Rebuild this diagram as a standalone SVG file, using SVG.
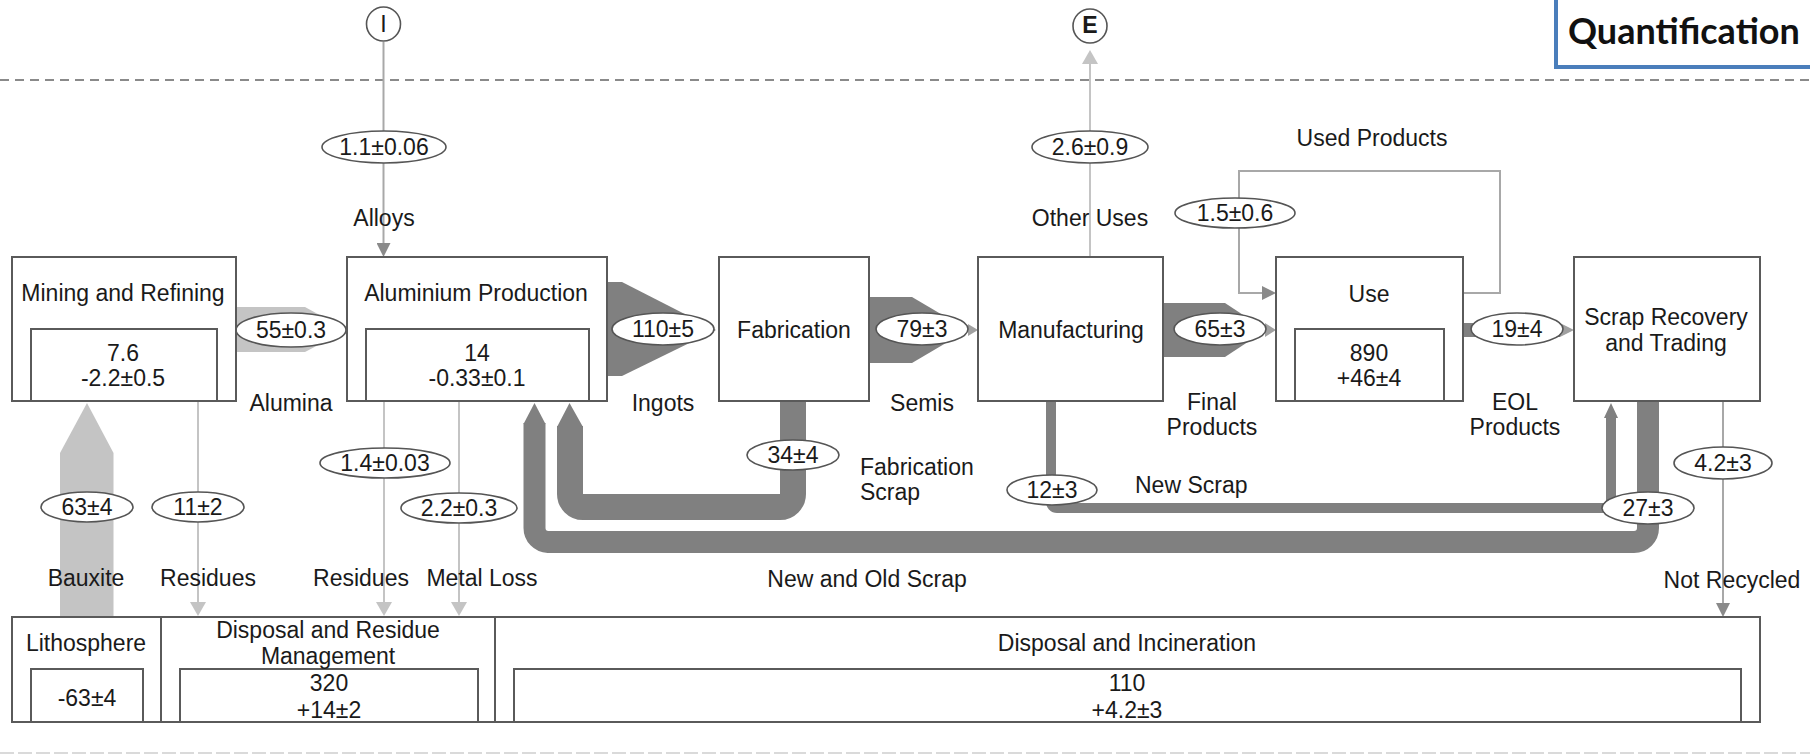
<svg xmlns="http://www.w3.org/2000/svg" width="1810" height="756" viewBox="0 0 1810 756">
<defs>
<style>
text { font-family: "Liberation Sans", Arial, sans-serif; font-size: 23px; fill: #1a1a1a; text-anchor: middle; }
.st { text-anchor: start; }
.box { fill: #fff; stroke: #5a5a5a; stroke-width: 2; }
.lbl { fill: #fff; stroke: #555; stroke-width: 1.6; }
.dark { fill: #808080; }
.dband { fill: none; stroke: #808080; }
.light { fill: #c4c4c4; }
.thinl { fill: none; stroke: #c4c4c4; stroke-width: 2; }
.thind { fill: none; stroke: #a8a8a8; stroke-width: 2; }
.q { font-family: Lato, "Open Sans", sans-serif; font-weight: 700; font-size: 36px; fill: #111; text-anchor: start; }
</style>
<marker id="hd" markerUnits="userSpaceOnUse" markerWidth="14" markerHeight="14" refX="0" refY="7" orient="auto"><path d="M0,0 L14,7 L0,14 z" fill="#8a8a8a"/></marker>
<marker id="hl" markerUnits="userSpaceOnUse" markerWidth="16" markerHeight="16" refX="0" refY="8" orient="auto"><path d="M0,0 L14,8 L0,16 z" fill="#c4c4c4"/></marker>
</defs>
<rect width="1810" height="756" fill="#fff"/>

<!-- system boundary -->
<line x1="0" y1="80" x2="1810" y2="80" stroke="#8a8a8a" stroke-width="2" stroke-dasharray="9 6"/>
<line x1="0" y1="753" x2="1810" y2="753" stroke="#dadada" stroke-width="2" stroke-dasharray="14 4"/>

<g id="title">
<rect x="1556" y="-4" width="270" height="71" fill="#fff" stroke="#4a7ebb" stroke-width="4"/>
<text class="q" x="1568" y="44">Quantification</text>
</g>

<g id="connectors">
<!-- thin flows -->
<path class="thind" d="M383.5,42 V243" marker-end="url(#hd)"/>
<path class="thinl" d="M1090,257 V64" marker-end="url(#hl)"/>
<path class="thinl" d="M198,401 V602" stroke-width="6" marker-end="url(#hl)"/>
<path class="thinl" d="M384,401 V602" marker-end="url(#hl)"/>
<path class="thinl" d="M459,401 V602" stroke="#bcbcbc" marker-end="url(#hl)"/>
<path class="thind" d="M1723,401 V603" stroke="#b4b4b4" marker-end="url(#hd)"/>
<path class="thind" d="M1463,293 H1500 V171 H1239 V293 H1262" stroke="#b4b4b4" marker-end="url(#hd)"/>
<!-- bauxite -->
<polygon class="light" points="60,617 60,453 87,403 113.5,453 113.5,617" fill="#c2c2c2"/>
<!-- alumina -->
<polygon class="light" points="236,307 305,307 347,330 305,352 236,352" fill="#c8c8c8"/>
<!-- ingots -->
<polygon class="dark" points="607,282 622,282 716,330 622,376 607,376"/>
<!-- semis -->
<polygon class="dark" points="869,297 912,297 968,330 912,363 869,363"/>
<polygon points="968,324 978,330 968,336" fill="#a0a0a0"/>
<!-- final products -->
<polygon class="dark" points="1163,303 1225,303 1266,330 1225,357 1163,357"/>
<polygon points="1265,323 1276,330 1265,337" fill="#a0a0a0"/>
<!-- EOL products -->
<rect class="dark" x="1463" y="323" width="97" height="14"/>
<polygon points="1560,323 1574,330 1560,337" fill="#a0a0a0"/>
<!-- fabrication scrap -->
<path class="dband" stroke-width="26" d="M793,401 V494 A13,13 0 0 1 780,507 H583 A13,13 0 0 1 570,494 V426"/>
<polygon class="dark" points="557,427 569.5,403 583,427"/>
<!-- new scrap -->
<path class="dband" stroke-width="10" d="M1051,401 V502 A6,6 0 0 0 1057,508 H1605 A6,6 0 0 0 1611,502 V417"/>
<polygon class="dark" points="1604,418 1611,403 1618,418"/>
<!-- new and old scrap -->
<path class="dband" stroke-width="22" d="M1648,401 V528 A14,14 0 0 1 1634,542 H548 A14,14 0 0 1 534.5,528 V423"/>
<polygon class="dark" points="523.5,424 534.5,403 545.5,424"/>
</g>

<g id="flow-labels">
<ellipse class="lbl" cx="384" cy="147" rx="62" ry="16"/><text x="384" y="155">1.1±0.06</text>
<ellipse class="lbl" cx="1090" cy="147" rx="58" ry="16"/><text x="1090" y="155">2.6±0.9</text>
<ellipse class="lbl" cx="1235" cy="213" rx="60" ry="15"/><text x="1235" y="221">1.5±0.6</text>
<ellipse class="lbl" cx="291" cy="330" rx="55" ry="17"/><text x="291" y="338">55±0.3</text>
<ellipse class="lbl" cx="663" cy="329" rx="51" ry="16"/><text x="663" y="337">110±5</text>
<ellipse class="lbl" cx="922" cy="329" rx="46" ry="16"/><text x="922" y="337">79±3</text>
<ellipse class="lbl" cx="1220" cy="329" rx="46" ry="16"/><text x="1220" y="337">65±3</text>
<ellipse class="lbl" cx="1517" cy="329" rx="46" ry="16"/><text x="1517" y="337">19±4</text>
<ellipse class="lbl" cx="385" cy="463" rx="65" ry="15"/><text x="385" y="471">1.4±0.03</text>
<ellipse class="lbl" cx="793" cy="455" rx="46" ry="15"/><text x="793" y="463">34±4</text>
<ellipse class="lbl" cx="1723" cy="463" rx="49" ry="16"/><text x="1723" y="471">4.2±3</text>
<ellipse class="lbl" cx="1052" cy="490" rx="45" ry="15"/><text x="1052" y="498">12±3</text>
<ellipse class="lbl" cx="1648" cy="508" rx="46" ry="16"/><text x="1648" y="516">27±3</text>
<ellipse class="lbl" cx="87" cy="507" rx="46" ry="15"/><text x="87" y="515">63±4</text>
<ellipse class="lbl" cx="198" cy="507" rx="46" ry="15"/><text x="198" y="515">11±2</text>
<ellipse class="lbl" cx="459" cy="508" rx="58" ry="15"/><text x="459" y="516">2.2±0.3</text>
</g>

<g id="flow-names">
<text x="384" y="226">Alloys</text>
<text x="1090" y="226">Other Uses</text>
<text x="1372" y="146">Used Products</text>
<text x="291" y="411">Alumina</text>
<text x="663" y="411">Ingots</text>
<text x="922" y="411">Semis</text>
<text x="1212" y="410">Final</text>
<text x="1212" y="435">Products</text>
<text x="1515" y="410">EOL</text>
<text x="1515" y="435">Products</text>
<text class="st" x="860" y="475">Fabrication</text>
<text class="st" x="860" y="500">Scrap</text>
<text class="st" x="1135" y="493">New Scrap</text>
<text x="867" y="587">New and Old Scrap</text>
<text x="86" y="586" fill="#4a4a4a">Bauxite</text>
<text x="208" y="586">Residues</text>
<text x="361" y="586">Residues</text>
<text x="482" y="586">Metal Loss</text>
<text x="1732" y="588">Not Recycled</text>
</g>

<g id="node-import">
<ellipse cx="383.5" cy="24" rx="17" ry="17" fill="#fff" stroke="#555" stroke-width="1.6"/>
<text x="383.5" y="32">I</text>
</g>
<g id="node-export">
<ellipse cx="1090" cy="26" rx="17" ry="17" fill="#fff" stroke="#555" stroke-width="1.6"/>
<text x="1090" y="33" font-weight="bold" font-size="20">E</text>
</g>

<g id="node-mining">
<rect class="box" x="12" y="257" width="224" height="144"/>
<rect class="box" x="31" y="329" width="186" height="72"/>
<text x="123" y="301">Mining and Refining</text>
<text x="123" y="361">7.6</text>
<text x="123" y="386">-2.2±0.5</text>
</g>
<g id="node-aluminium">
<rect class="box" x="347" y="257" width="260" height="144"/>
<rect class="box" x="366" y="329" width="223" height="72"/>
<text x="476" y="301">Aluminium Production</text>
<text x="477" y="361">14</text>
<text x="477" y="386">-0.33±0.1</text>
</g>
<g id="node-fabrication">
<rect class="box" x="719" y="257" width="150" height="144"/>
<text x="794" y="338">Fabrication</text>
</g>
<g id="node-manufacturing">
<rect class="box" x="978" y="257" width="185" height="144"/>
<text x="1071" y="338">Manufacturing</text>
</g>
<g id="node-use">
<rect class="box" x="1276" y="257" width="187" height="144"/>
<rect class="box" x="1295" y="329" width="149" height="72"/>
<text x="1369" y="302">Use</text>
<text x="1369" y="361">890</text>
<text x="1369" y="386">+46±4</text>
</g>
<g id="node-scrap">
<rect class="box" x="1574" y="257" width="186" height="144"/>
<text x="1666" y="325">Scrap Recovery</text>
<text x="1666" y="351">and Trading</text>
</g>
<g id="node-lithosphere">
<rect class="box" x="12" y="617" width="149" height="105"/>
<rect class="box" x="31" y="669" width="112" height="53"/>
<text x="86" y="651">Lithosphere</text>
<text x="87" y="706">-63±4</text>
</g>
<g id="node-residue">
<rect class="box" x="161" y="617" width="334" height="105"/>
<rect class="box" x="180" y="669" width="298" height="53"/>
<text x="328" y="638">Disposal and Residue</text>
<text x="328" y="664">Management</text>
<text x="329" y="691">320</text>
<text x="329" y="718">+14±2</text>
</g>
<g id="node-incineration">
<rect class="box" x="495" y="617" width="1265" height="105"/>
<rect class="box" x="514" y="669" width="1227" height="53"/>
<text x="1127" y="651">Disposal and Incineration</text>
<text x="1127" y="691">110</text>
<text x="1127" y="718">+4.2±3</text>
</g>
</svg>
